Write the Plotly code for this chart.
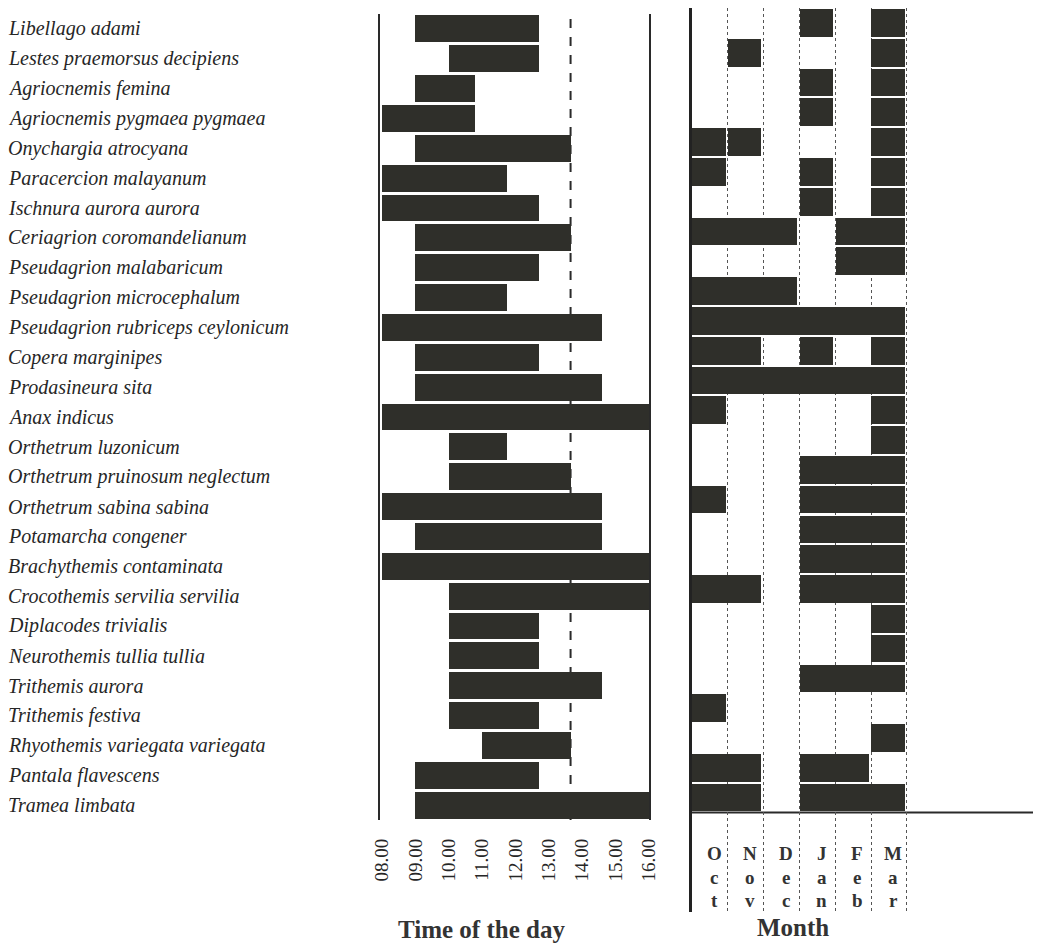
import plotly.graph_objects as go

# ---------------- data ----------------
species = [
    "Libellago adami", "Lestes praemorsus decipiens", "Agriocnemis femina",
    "Agriocnemis pygmaea pygmaea", "Onychargia atrocyana", "Paracercion malayanum",
    "Ischnura aurora aurora", "Ceriagrion coromandelianum", "Pseudagrion malabaricum",
    "Pseudagrion microcephalum", "Pseudagrion rubriceps ceylonicum", "Copera marginipes",
    "Prodasineura sita", "Anax indicus", "Orthetrum luzonicum",
    "Orthetrum pruinosum neglectum", "Orthetrum sabina sabina", "Potamarcha congener",
    "Brachythemis contaminata", "Crocothemis servilia servilia", "Diplacodes trivialis",
    "Neurothemis tullia tullia", "Trithemis aurora", "Trithemis festiva",
    "Rhyothemis variegata variegata", "Pantala flavescens", "Tramea limbata",
]

# activity period in the day (hours)
time_start = [9, 10, 9, 8, 9, 8, 8, 9, 9, 9, 8, 9, 9, 8, 10, 10, 8, 9, 8, 10,
              10, 10, 10, 10, 11, 9, 9]
time_end = [12.7, 12.7, 10.8, 10.8, 13.65, 11.75, 12.7, 13.65, 12.7, 11.75, 14.6,
            12.7, 14.6, 16, 11.75, 13.65, 14.6, 14.6, 16, 16, 12.7, 12.7, 14.6,
            12.7, 13.65, 12.7, 16]
reference_time = 13.65

hour_ticks = [8, 9, 10, 11, 12, 13, 14, 15, 16]
hour_labels = ["08.00", "09.00", "10.00", "11.00", "12.00", "13.00", "14.00", "15.00", "16.00"]

months = ["Oct", "Nov", "Dec", "Jan", "Feb", "Mar"]
# months in which each species was recorded (runs of consecutive months)
month_records = [
    "Jan;Mar", "Nov;Mar", "Jan;Mar", "Jan;Mar", "Oct;Nov;Mar", "Oct;Jan;Mar",
    "Jan;Mar", "Oct-Dec;Feb-Mar", "Feb-Mar", "Oct-Dec", "Oct-Mar", "Oct-Nov;Jan;Mar",
    "Oct-Mar", "Oct;Mar", "Mar", "Jan-Mar", "Oct;Jan-Mar", "Jan-Mar", "Jan-Mar",
    "Oct-Nov;Jan-Mar", "Mar", "Mar", "Jan-Mar", "Oct", "Mar", "Oct-Nov;Jan-Feb",
    "Oct-Nov;Jan-Mar",
]

# ---------------- figure ----------------
W, H = 1038, 947
BAR = "#2f2f2a"
INK = "#262626"
SERIF = "Liberation Serif"

fig = go.Figure()

# time-of-day bars
fig.add_trace(go.Bar(
    y=species, x=[e - s for s, e in zip(time_start, time_end)], base=time_start,
    orientation="h", width=0.9, marker=dict(color=BAR, line=dict(width=0)),
    xaxis="x", yaxis="y", showlegend=False, hoverinfo="skip",
))

# month bars
my, mx, mb = [], [], []
for sp, rec in zip(species, month_records):
    for run in rec.split(";"):
        parts = run.split("-")
        i0 = months.index(parts[0])
        i1 = months.index(parts[-1])
        my.append(sp)
        mb.append(i0 + 0.01)
        mx.append(i1 - i0 + 1 - 0.07)
fig.add_trace(go.Bar(
    y=my, x=mx, base=mb, orientation="h", width=0.93,
    marker=dict(color=BAR, line=dict(width=0)),
    xaxis="x2", yaxis="y2", showlegend=False, hoverinfo="skip",
))

def px_x(p):
    return p / W

def px_y(p):
    return 1 - p / H

fig.update_layout(
    width=W, height=H, autosize=False, margin=dict(l=0, r=0, t=0, b=0, autoexpand=False),
    paper_bgcolor="white", plot_bgcolor="white",
    barmode="overlay", bargap=0,
    xaxis=dict(
        domain=[px_x(380), px_x(649)], range=[7.94, 16.0],
        tickvals=hour_ticks, ticktext=hour_labels, tickangle=-90,
        ticks="", showgrid=False, zeroline=False, showline=False,
        tickfont=dict(family=SERIF, size=19, color=INK), ticklabelstandoff=14,
        anchor="y", automargin=False,
    ),
    yaxis=dict(
        domain=[px_y(820), px_y(14)], type="category", categoryorder="array",
        categoryarray=species, range=[26.5, -0.5], showticklabels=False,
        showline=True, mirror=True, linecolor="#2a2a2a", linewidth=2,
        layer="below traces", showgrid=False, zeroline=False, ticks="", anchor="x",
        automargin=False,
    ),
    xaxis2=dict(
        domain=[px_x(692), px_x(1033)], range=[0, (1033 - 692) / 35.8],
        tickvals=[1, 2, 3, 4, 5, 6], showticklabels=False, ticks="",
        showgrid=True, gridcolor="#555555", griddash="dot", gridwidth=1,
        zeroline=False, showline=False, anchor="y2", automargin=False,
    ),
    yaxis2=dict(
        domain=[px_y(912), px_y(8)], type="category", categoryorder="array",
        categoryarray=species, range=[29.84, -0.5], showticklabels=False,
        showline=True, linecolor="#222222", linewidth=3, layer="below traces",
        showgrid=False, zeroline=False, ticks="", anchor="x2", automargin=False,
    ),
)

# dashed reference line in the time panel
fig.add_shape(type="line", xref="x", yref="y domain", x0=reference_time, x1=reference_time,
              y0=0.0, y1=1.0, line=dict(color="#2a2a2a", width=2, dash="dash"), layer="below")

# baseline of the month panel
fig.add_shape(type="line", xref="x2 domain", yref="y2", x0=0, x1=1, y0=26.5, y1=26.5,
              line=dict(color="#2a2a2a", width=2), layer="below")

# species labels (left aligned)
for sp in species:
    fig.add_annotation(text=sp, xref="paper", yref="y", x=px_x(6), y=sp,
                       xanchor="left", yanchor="middle", showarrow=False,
                       font=dict(family=SERIF, size=20, color=INK, style="italic"))

# month labels written vertically, one letter per line
letter_rows = [853, 877, 900]
for i, m in enumerate(months):
    for ch, yy in zip(m, letter_rows):
        fig.add_annotation(text="<b>" + ch + "</b>", xref="x2", yref="paper",
                           x=i + 0.62, y=px_y(yy), xanchor="center", yanchor="middle",
                           showarrow=False,
                           font=dict(family=SERIF, size=19, color="#333333"))

# axis titles
fig.add_annotation(text="<b>Time of the day</b>", xref="paper", yref="paper",
                   x=px_x(481), y=px_y(929), xanchor="center", yanchor="middle",
                   showarrow=False, font=dict(family=SERIF, size=25, color="#333333"))
fig.add_annotation(text="<b>Month</b>", xref="paper", yref="paper",
                   x=px_x(793), y=px_y(927), xanchor="center", yanchor="middle",
                   showarrow=False, font=dict(family=SERIF, size=25, color="#333333"))

fig.write_html("out.html",
               config={"displayModeBar": False, "responsive": False},
               post_script="document.body.style.margin='0';document.body.style.overflow='hidden';")
